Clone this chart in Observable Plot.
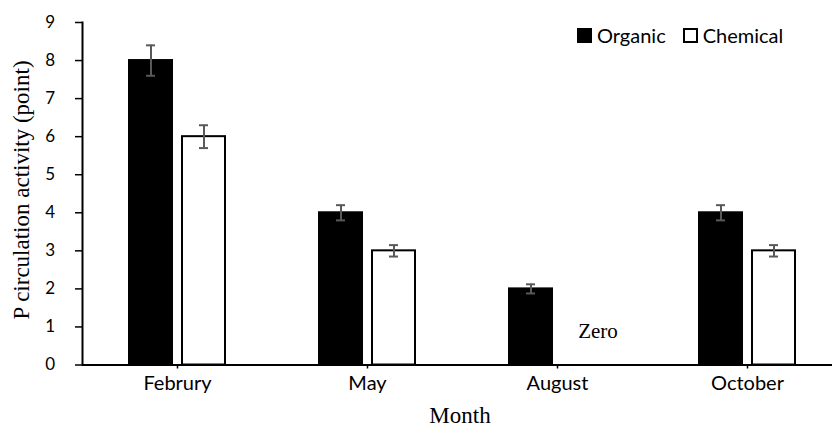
<!DOCTYPE html>
<html>
<head>
<meta charset="utf-8">
<script src="https://cdn.jsdelivr.net/npm/d3@7"></script>
<script src="https://cdn.jsdelivr.net/npm/@observablehq/plot@0.6"></script>
<style>
  html, body { margin: 0; padding: 0; background: #fff; }
  #wrap { position: relative; width: 832px; height: 428px; overflow: hidden; }
  #wrap svg { position: absolute; left: 0; top: 0; overflow: visible; }
  .ytitle { position: absolute; left: 21px; top: 190px; transform: translate(-50%, -50%) rotate(-90deg);
            font-family: "Liberation Serif", serif; font-size: 23px; line-height: 1; white-space: nowrap; color: #000; }
  .xtitle { position: absolute; left: 460px; top: 404px; transform: translateX(-50%);
            font-family: "Liberation Serif", serif; font-size: 23px; line-height: 1; white-space: nowrap; color: #000; }
  .legend { position: absolute; left: 577px; top: 25px; display: flex; align-items: center;
            font-family: Lato, sans-serif; font-size: 20px; line-height: 1; color: #000; }
  .legend .sw { width: 15px; height: 15px; box-sizing: border-box; border: 2px solid #000; margin-right: 5px; }
  .legend .item { display: flex; align-items: center; margin-right: 17px; }
</style>
</head>
<body>
<div id="wrap"></div>
<script>
const months = ["Februry", "May", "August", "October"];
const seriesNames = ["Organic", "Chemical"];
const organic = [8, 4, 2, 4];
const chemical = [6, 3, 0, 3];
const organicErr = [0.4, 0.2, 0.12, 0.2];
const chemicalErr = [0.3, 0.15, 0, 0.15];
const yTicks = [0, 1, 2, 3, 4, 5, 6, 7, 8, 9];
const annotation = [{month: "August", series: "Chemical", label: "Zero", y: 0.88}];

const rows = [];
months.forEach((m, i) => {
  rows.push({month: m, series: "Organic", value: organic[i], err: organicErr[i]});
  rows.push({month: m, series: "Chemical", value: chemical[i], err: chemicalErr[i]});
});
const bars = rows.filter(d => d.value > 0);
const errs = rows.filter(d => d.err > 0);

const chart = Plot.plot({
  width: 832,
  height: 428,
  marginLeft: 82,
  marginTop: 22,
  marginBottom: 63.5,
  marginRight: -10,
  style: {fontFamily: "Lato, sans-serif", color: "#000", background: "transparent"},
  fx: {domain: months, padding: 0, axis: null},
  x: {domain: seriesNames, paddingInner: 10 / 54, paddingOuter: 0.852, axis: null},
  y: {domain: [0, 9], axis: null},
  color: {domain: seriesNames, range: ["#000", "#fff"]},
  marks: [
    Plot.axisY({ticks: yTicks, tickSize: 7, tickFormat: () => "", label: null, stroke: "#000", strokeWidth: 1.5}),
    Plot.axisY({ticks: yTicks, tickSize: 0, tickPadding: 22, dx: -5.5, fontSize: 17, label: null}),
    Plot.axisFx({anchor: "bottom", tickSize: 4, tickPadding: 7, fontSize: 20, label: null, stroke: "#000", strokeWidth: 1.5}),
    Plot.frame({anchor: "left", facetAnchor: "left", stroke: "#000", strokeWidth: 2}),
    Plot.barY(bars, {fx: "month", x: "series", y: "value", fill: "series", stroke: "#000", strokeWidth: 2}),
    Plot.ruleY([0], {stroke: "#000", strokeWidth: 2}),
    Plot.ruleX(errs, {fx: "month", x: "series", y1: d => d.value - d.err, y2: d => d.value + d.err, stroke: "#595959", strokeWidth: 2}),
    Plot.tickY(errs, {fx: "month", x: "series", y: d => d.value + d.err, stroke: "#595959", strokeWidth: 2, insetLeft: 17, insetRight: 17}),
    Plot.tickY(errs, {fx: "month", x: "series", y: d => d.value - d.err, stroke: "#595959", strokeWidth: 2, insetLeft: 17, insetRight: 17}),
    Plot.text(annotation, {fx: "month", x: "series", y: "y", text: "label", dx: 14, fontFamily: "Liberation Serif", fontSize: 21, fill: "#000"})
  ]
});

const wrap = document.getElementById("wrap");
wrap.appendChild(chart);

const yt = document.createElement("div");
yt.className = "ytitle";
yt.textContent = "P circulation activity (point)";
wrap.appendChild(yt);

const xt = document.createElement("div");
xt.className = "xtitle";
xt.textContent = "Month";
wrap.appendChild(xt);

const lg = document.createElement("div");
lg.className = "legend";
seriesNames.forEach((s, i) => {
  const it = document.createElement("div");
  it.className = "item";
  const sw = document.createElement("div");
  sw.className = "sw";
  sw.style.background = i === 0 ? "#000" : "#fff";
  it.appendChild(sw);
  const t = document.createElement("span");
  t.textContent = s;
  it.appendChild(t);
  lg.appendChild(it);
});
wrap.appendChild(lg);
</script>
</body>
</html>
